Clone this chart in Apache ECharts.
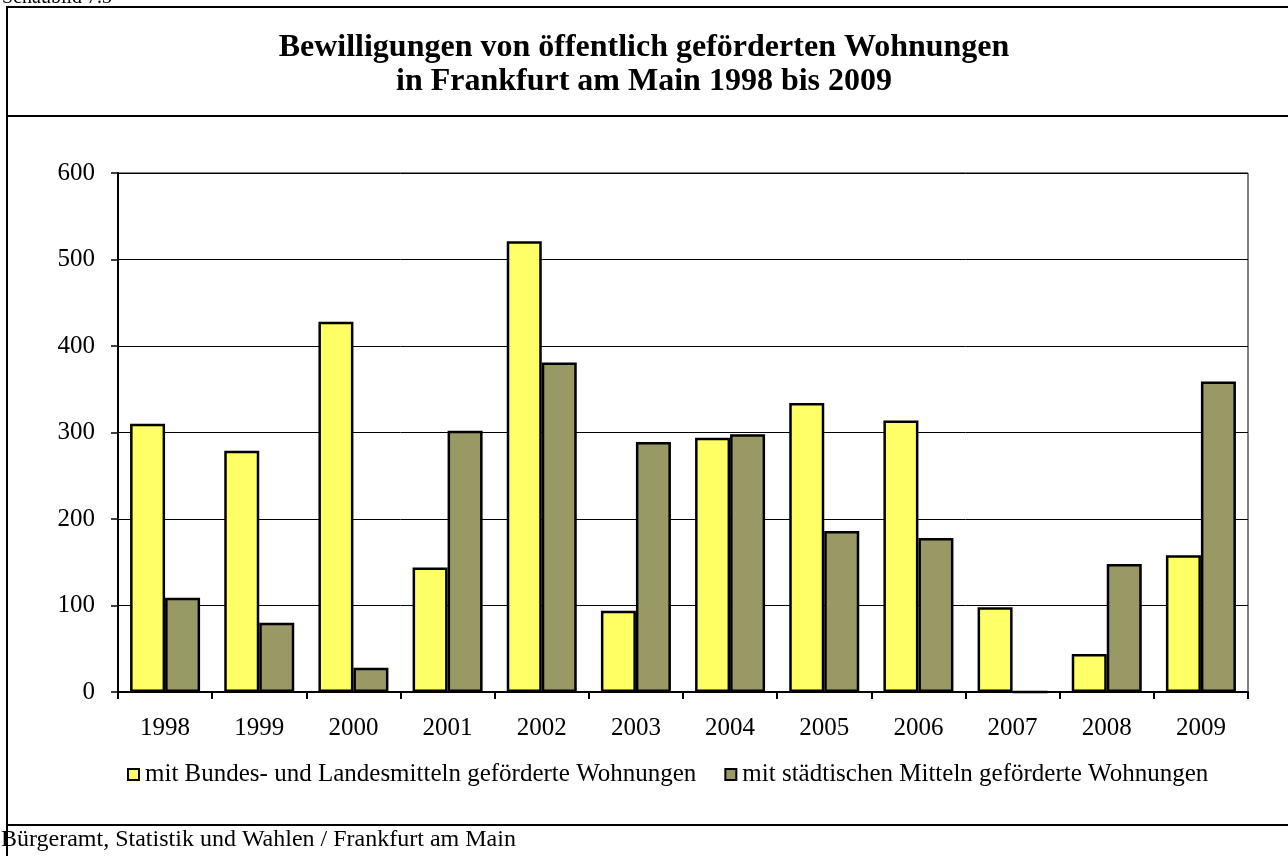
<!DOCTYPE html>
<html><head><meta charset="utf-8">
<script src="https://cdn.jsdelivr.net/npm/echarts@6/dist/echarts.min.js"></script>
<style>html,body{margin:0;padding:0;background:#fff}#c{width:1288px;height:856px}</style>
</head><body><div id="c"></div>
<script>
const years = ['1998','1999','2000','2001','2002','2003','2004','2005','2006','2007','2008','2009'];
const bundLand = [310, 279, 428, 144, 521, 94, 294, 334, 314, 98, 44, 158];
const staedtisch = [109, 80, 28, 302, 381, 289, 298, 186, 178, 0, 148, 359];
const seriesNames = ['mit Bundes- und Landesmitteln geförderte Wohnungen', 'mit städtischen Mitteln geförderte Wohnungen'];
const yTicks = [0, 100, 200, 300, 400, 500, 600];

const F = '"Liberation Serif","Times New Roman",serif';
const chart = echarts.init(document.getElementById('c'));
chart.setOption({
  animation: false,
  backgroundColor: '#fff',
  textStyle: {fontFamily: F, color: '#000'},
  title: {
    text: 'Bewilligungen von öffentlich geförderten Wohnungen\nin Frankfurt am Main 1998 bis 2009',
    left: 'center', top: 26,
    textStyle: {fontFamily: F, fontSize: 32, fontWeight: 'bold', color: '#000', lineHeight: 34}
  },
  legend: {
    top: 757, left: 122, itemGap: 28,
    itemWidth: 11, itemHeight: 11, icon: 'rect',
    itemStyle: {borderColor: '#000', borderWidth: 2},
    textStyle: {fontFamily: F, fontSize: 25, color: '#000', padding: [0, 0, 0, 1]},
    data: seriesNames
  },
  grid: {left: 118, right: 40, top: 173, bottom: 164, show: true, borderColor: '#000', borderWidth: 1},
  xAxis: {
    type: 'category', data: years, boundaryGap: true,
    axisLine: {lineStyle: {color: '#000', width: 2}},
    axisTick: {show: true, length: 7, lineStyle: {color: '#000', width: 2}},
    axisLabel: {fontFamily: F, fontSize: 25, color: '#000', margin: 24}
  },
  yAxis: {
    type: 'value', min: yTicks[0], max: yTicks[yTicks.length-1], interval: 100,
    axisLine: {show: true, lineStyle: {color: '#000', width: 2}},
    axisTick: {show: true, length: 7, lineStyle: {color: '#000', width: 1.5}},
    axisLabel: {fontFamily: F, fontSize: 25, color: '#000', margin: 23},
    splitLine: {lineStyle: {color: '#000', width: 1}}
  },
  series: [
    {name: seriesNames[0], type: 'bar', data: bundLand, barWidth: 35, barGap: '0%',
     itemStyle: {color: '#FFFF66', borderColor: '#000', borderWidth: 2.5}},
    {name: seriesNames[1], type: 'bar', data: staedtisch, barWidth: 35, barGap: '0%',
     itemStyle: {color: '#999966', borderColor: '#000', borderWidth: 2.5}}
  ],
  graphic: [
    {type: 'rect', shape: {x: 7, y: 7, width: 1290, height: 900}, style: {fill: 'none', stroke: '#000', lineWidth: 2}, silent: true},
    {type: 'line', shape: {x1: 7, y1: 116, x2: 1288, y2: 116}, style: {stroke: '#000', lineWidth: 2}},
    {type: 'line', shape: {x1: 7, y1: 825, x2: 1288, y2: 825}, style: {stroke: '#000', lineWidth: 2}},
    {type: 'text', left: 1, top: 828, style: {text: 'Bürgeramt, Statistik und Wahlen / Frankfurt am Main', font: '24px ' + F, fill: '#000'}},
    {type: 'text', left: 2, top: -12, style: {text: 'Schaubild 7.3', font: '20px ' + F, fill: '#000'}}
  ]
});
</script></body></html>
